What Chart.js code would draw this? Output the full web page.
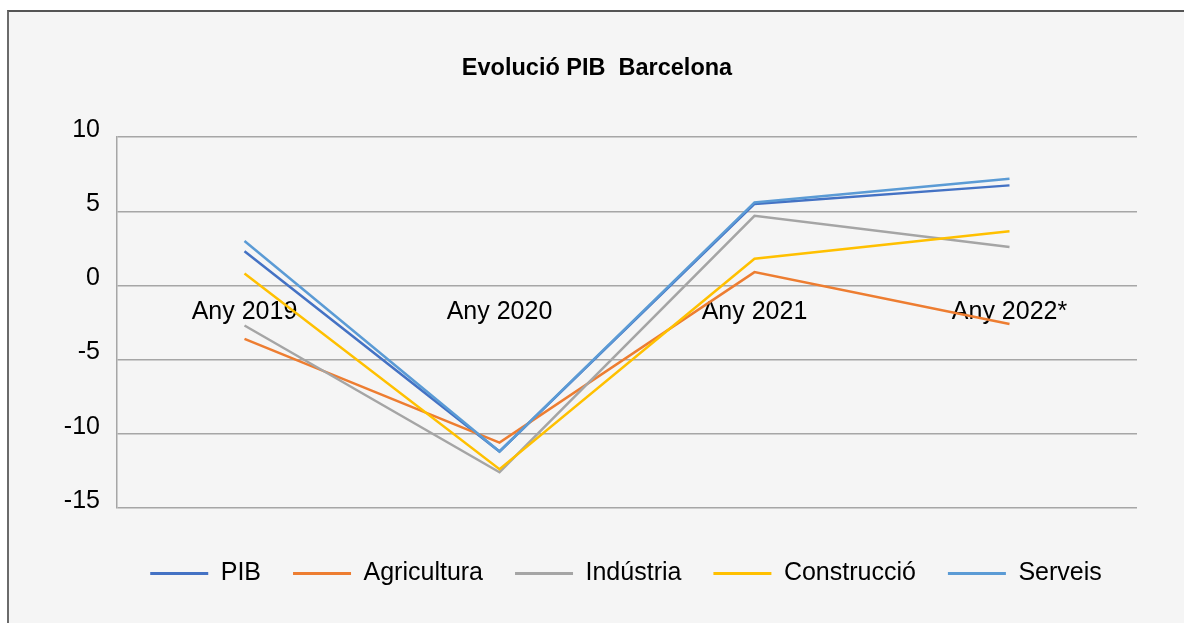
<!DOCTYPE html>
<html>
<head>
<meta charset="utf-8">
<script src="https://cdn.jsdelivr.net/npm/chart.js@4"></script>
<style>
  html, body { margin: 0; padding: 0; background: #ffffff; overflow: hidden; }
  .frame {
    position: absolute; left: 7px; top: 10px; width: 1300px; height: 700px;
    border-left: 2px solid #6b6b6b; border-top: 2px solid #555;
    background: #f5f5f5;
  }
  #chart { position: absolute; left: 0; top: 0; }
</style>
</head>
<body>
<div class="frame"></div>
<canvas id="chart" width="1184" height="623"></canvas>
<script>
const years = ['Any 2019', 'Any 2020', 'Any 2021', 'Any 2022*'];
const pib = [2.3, -11.2, 5.5, 6.75];
const agricultura = [-3.6, -10.6, 0.9, -2.6];
const industria = [-2.7, -12.6, 4.7, 2.6];
const construccio = [0.8, -12.4, 1.8, 3.65];
const serveis = [3.0, -11.2, 5.6, 7.2];

const font = 'Liberation Sans, Arial, Helvetica, sans-serif';

function series(label, data, color, order) {
    return { label, data, yAxisID: 'y', borderColor: color, backgroundColor: color, borderWidth: 2.5,
             pointRadius: 0, fill: false, tension: 0, order };
}

// legend and title sit a bit right of the canvas centre, under the plot area
const shiftBoxes = {
    id: 'shiftBoxes',
    afterLayout(chart) {
        chart.legend.left += 34;
        chart.legend.right += 34;
        chart.titleBlock.left += 5;
        chart.titleBlock.right += 5;
    }
};

const ctx = document.getElementById('chart').getContext('2d');
new Chart(ctx, {
    type: 'line',
    data: {
        labels: years,
        datasets: [
            series('PIB', pib, '#4472C4', 5),
            series('Agricultura', agricultura, '#ED7D31', 4),
            series('Indústria', industria, '#A5A5A5', 3),
            series('Construcció', construccio, '#FFC000', 2),
            series('Serveis', serveis, '#5B9BD5', 1)
        ]
    },
    plugins: [shiftBoxes],
    options: {
        responsive: false,
        animation: false,
        layout: { padding: { left: 0, right: 0, top: 0, bottom: 27 } },
        plugins: {
            tooltip: { enabled: false },
            title: {
                display: true,
                text: 'Evolució PIB  Barcelona',
                color: '#000',
                font: { family: font, size: 23.5, weight: 'bold' },
                padding: { top: 54, bottom: 55 }
            },
            legend: {
                position: 'bottom',
                title: { display: true, text: '', font: { size: 1 }, padding: { top: 20, bottom: 0 } },
                labels: {
                    color: '#000',
                    font: { family: font, size: 25 },
                    boxWidth: 58,
                    boxHeight: 3,
                    padding: 32,
                    generateLabels: chart => chart.data.datasets.map((ds, i) => ({
                        text: ds.label, fillStyle: ds.borderColor, strokeStyle: ds.borderColor,
                        lineWidth: 0, hidden: false, datasetIndex: i, fontColor: '#000'
                    }))
                }
            }
        },
        scales: {
            x: {
                position: { y: 0 },
                offset: true,
                grid: { display: false, drawTicks: false },
                border: { display: false },
                ticks: { color: '#000', font: { family: font, size: 25 }, padding: 12, maxRotation: 0 }
            },
            y: {
                min: -15,
                max: 10,
                afterFit: s => { s.width = 117; },
                grid: { color: '#a6a6a6', lineWidth: 1.5, drawTicks: false },
                border: { display: true, color: '#a6a6a6', width: 1.5 },
                ticks: { stepSize: 5, color: '#000', font: { family: font, size: 25 }, padding: 17, labelOffset: -7 }
            },
            yR: {
                position: 'right',
                afterFit: s => { s.width = 47; },
                grid: { display: false, drawTicks: false },
                border: { display: false },
                ticks: { display: false }
            }
        }
    }
});
</script>
</body>
</html>
